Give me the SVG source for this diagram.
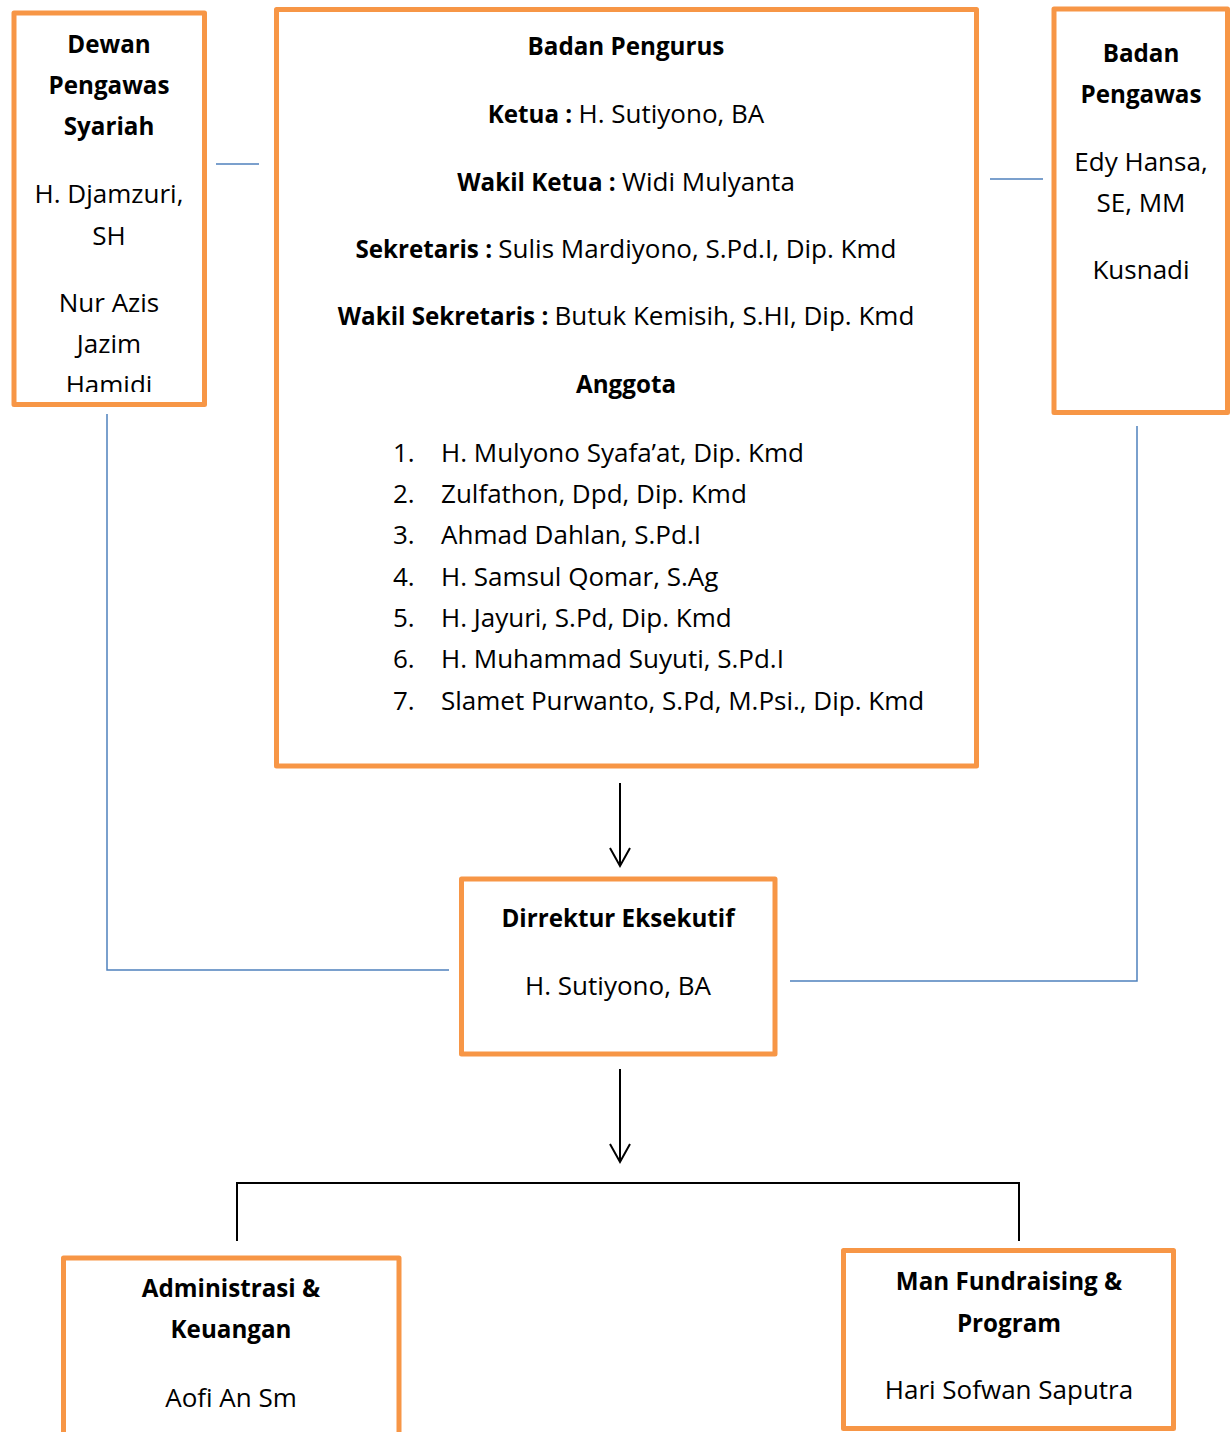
<svg xmlns="http://www.w3.org/2000/svg" width="1231" height="1432" viewBox="0 0 1231 1432">
<style>
.box{fill:#fff;stroke:#F79646;stroke-width:5;stroke-linejoin:round}
.t{font-family:"Open Sans","Liberation Sans",sans-serif;font-size:26px;fill:#000;text-anchor:middle}
.l{text-anchor:start}
.b{font-weight:700;font-size:24.2px}
.blue{stroke:#4F81BD;stroke-width:1.5;fill:none}
.blk{stroke:#000;stroke-width:2;fill:none}
</style>
<defs>
<marker id="arr" markerUnits="userSpaceOnUse" markerWidth="30" markerHeight="30" viewBox="-20 -15 25 30" refX="0" refY="0" orient="auto" overflow="visible">
<path d="M-18,-10 L0,0 L-18,10" fill="none" stroke="#000" stroke-width="2"/>
</marker>
<clipPath id="clipDewan"><rect x="17" y="16" width="185" height="376"/></clipPath>
</defs>
<rect width="1231" height="1432" fill="#fff"/>

<g id="connectors">
<line class="blue" x1="216" y1="164" x2="259" y2="164"/>
<line class="blue" x1="990" y1="179" x2="1043" y2="179"/>
<polyline class="blue" points="107,414 107,970 449,970"/>
<polyline class="blue" points="1137,426 1137,981 790,981"/>
<line class="blk" x1="620" y1="783" x2="620" y2="866" marker-end="url(#arr)"/>
<line class="blk" x1="620" y1="1069" x2="620" y2="1162" marker-end="url(#arr)"/>
<polyline class="blk" points="237,1241 237,1183 1019,1183 1019,1241" stroke-width="1.8"/>
</g>

<g id="dewan-pengawas-syariah">
<rect class="box" x="14" y="13" width="190.5" height="391.5"/>
<g clip-path="url(#clipDewan)">
<text class="t b" x="109" y="53">Dewan</text>
<text class="t b" x="109" y="94">Pengawas</text>
<text class="t b" x="109" y="135">Syariah</text>
<text class="t" x="109" y="203">H. Djamzuri,</text>
<text class="t" x="109" y="245">SH</text>
<text class="t" x="109" y="312">Nur Azis</text>
<text class="t" x="109" y="353">Jazim</text>
<text class="t" x="109" y="394">Hamidi</text>
</g>
</g>

<g id="badan-pengurus">
<rect class="box" x="276.5" y="9.5" width="700" height="756.5"/>
<text class="t b" x="626" y="55">Badan Pengurus</text>
<text class="t" x="626" y="123"><tspan class="b">Ketua : </tspan>H. Sutiyono, BA</text>
<text class="t" x="626" y="191"><tspan class="b">Wakil Ketua : </tspan>Widi Mulyanta</text>
<text class="t" x="626" y="258"><tspan class="b">Sekretaris : </tspan>Sulis Mardiyono, S.Pd.I, Dip. Kmd</text>
<text class="t" x="626" y="325"><tspan class="b">Wakil Sekretaris : </tspan>Butuk Kemisih, S.HI, Dip. Kmd</text>
<text class="t b" x="626" y="393">Anggota</text>
<text class="t l" x="393" y="462">1.</text><text class="t l" x="441" y="462">H. Mulyono Syafa’at, Dip. Kmd</text>
<text class="t l" x="393" y="503">2.</text><text class="t l" x="441" y="503">Zulfathon, Dpd, Dip. Kmd</text>
<text class="t l" x="393" y="544">3.</text><text class="t l" x="441" y="544">Ahmad Dahlan, S.Pd.I</text>
<text class="t l" x="393" y="586">4.</text><text class="t l" x="441" y="586">H. Samsul Qomar, S.Ag</text>
<text class="t l" x="393" y="627">5.</text><text class="t l" x="441" y="627">H. Jayuri, S.Pd, Dip. Kmd</text>
<text class="t l" x="393" y="668">6.</text><text class="t l" x="441" y="668">H. Muhammad Suyuti, S.Pd.I</text>
<text class="t l" x="393" y="710">7.</text><text class="t l" x="441" y="710">Slamet Purwanto, S.Pd, M.Psi., Dip. Kmd</text>
</g>

<g id="badan-pengawas">
<rect class="box" x="1054" y="9" width="173.5" height="403.5"/>
<text class="t b" x="1141" y="62">Badan</text>
<text class="t b" x="1141" y="103">Pengawas</text>
<text class="t" x="1141" y="171">Edy Hansa,</text>
<text class="t" x="1141" y="212">SE, MM</text>
<text class="t" x="1141" y="279">Kusnadi</text>
</g>

<g id="direktur-eksekutif">
<rect class="box" x="461.5" y="879" width="313.5" height="175"/>
<text class="t b" x="618" y="927">Dirrektur Eksekutif</text>
<text class="t" x="618" y="995">H. Sutiyono, BA</text>
</g>

<g id="administrasi-keuangan">
<rect class="box" x="63.5" y="1258" width="335.5" height="200"/>
<text class="t b" x="231" y="1297">Administrasi &amp;</text>
<text class="t b" x="231" y="1338">Keuangan</text>
<text class="t" x="231" y="1407">Aofi An Sm</text>
</g>

<g id="man-fundraising-program">
<rect class="box" x="843.5" y="1250.5" width="330" height="178"/>
<text class="t b" x="1009" y="1290">Man Fundraising &amp;</text>
<text class="t b" x="1009" y="1332">Program</text>
<text class="t" x="1009" y="1399">Hari Sofwan Saputra</text>
</g>
</svg>
